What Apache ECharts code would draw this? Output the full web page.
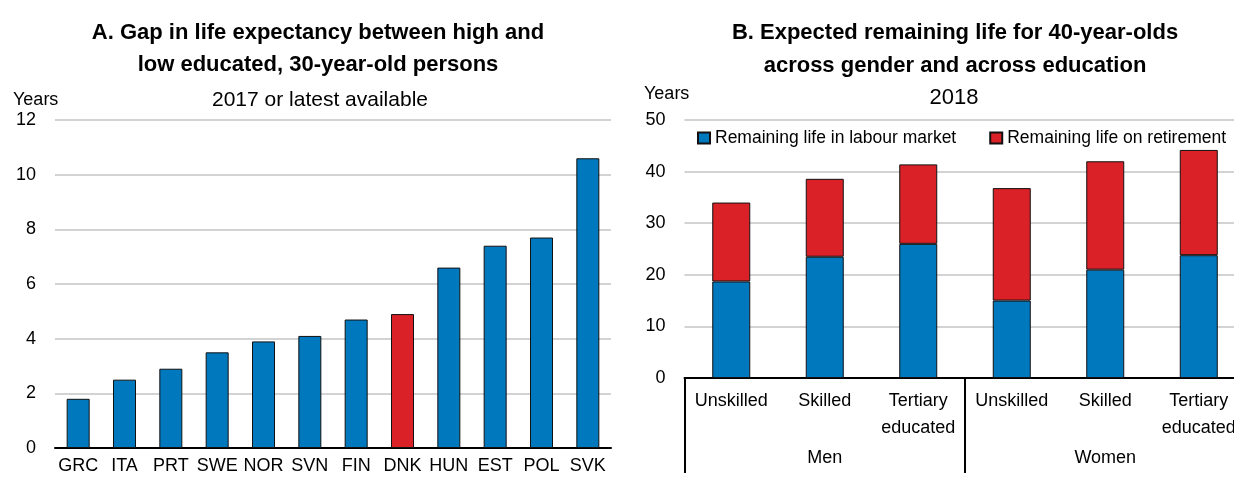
<!DOCTYPE html>
<html><head><meta charset="utf-8">
<script src="https://cdn.jsdelivr.net/npm/echarts@6/dist/echarts.min.js"></script>
<style>html,body{margin:0;padding:0;background:#fff}#c{width:1234px;height:477px}</style>
</head><body><div id="c"></div>
<script>
const FONT = '"Liberation Sans Narrow","Arial Narrow","Liberation Sans",Arial,sans-serif';
const BLUE = '#0078BE', RED = '#DA2128';

// Panel A
const countriesA = ['GRC','ITA','PRT','SWE','NOR','SVN','FIN','DNK','HUN','EST','POL','SVK'];
const gapA = [1.8, 2.5, 2.9, 3.5, 3.9, 4.1, 4.7, 4.9, 6.6, 7.4, 7.7, 10.6];
const highlightA = 'DNK';
const yTicksA = {min: 0, max: 12, interval: 2};

// Panel B
const categoriesB = ['Unskilled','Skilled','Tertiary\neducated','Unskilled','Skilled','Tertiary\neducated'];
const groupsB = ['Men','Women'];
const labourB = [18.7, 23.5, 26.0, 15.0, 21.0, 23.8];
const retireB = [15.3, 15.1, 15.4, 21.8, 21.0, 20.4];
const seriesNamesB = ['Remaining life in labour market','Remaining life on retirement'];
const yTicksB = {min: 0, max: 50, interval: 10};

const chart = echarts.init(document.getElementById('c'), null, {renderer: 'canvas'});
const txt = (x, y, s, size, weight, align) => ({
  type: 'text', x: x, y: y,
  style: {text: s, font: (weight||'normal') + ' ' + size + 'px ' + FONT, fill: '#000', textAlign: align||'center', textVerticalAlign: 'middle'}
});
const gridLine = {show: true, lineStyle: {color: '#C4C4C4', width: 1.5}};
chart.setOption({
  animation: false,
  textStyle: {fontFamily: FONT, color: '#000'},
  graphic: [
    txt(318, 33, 'A. Gap in life expectancy between high and', 22, 'bold'),
    txt(318, 65, 'low educated, 30-year-old persons', 22, 'bold'),
    txt(320, 100, '2017 or latest available', 21),
    txt(13, 100, 'Years', 18, 'normal', 'left'),
    txt(955, 33, 'B. Expected remaining life for 40-year-olds', 22, 'bold'),
    txt(955, 66, 'across gender and across education', 22, 'bold'),
    txt(954, 98, '2018', 22),
    txt(644, 94, 'Years', 18, 'normal', 'left')
  ],
  legend: {
    left: 692, top: 124, width: 600, itemWidth: 12, itemHeight: 11, itemGap: 33, icon: 'rect',
    textStyle: {fontSize: 17.5, fontFamily: FONT, color: '#000'},
    data: seriesNamesB
  },
  grid: [
    {left: 55, right: 623, top: 120, bottom: 29, outerBoundsMode: 'none', containLabel: false},
    {left: 684.5, width: 561, top: 120, bottom: 99, outerBoundsMode: 'none', containLabel: false}
  ],
  xAxis: [
    {gridIndex: 0, type: 'category', data: countriesA,
     axisLine: {lineStyle: {color: '#000', width: 2}},
     axisTick: {inside: true, length: 6, lineStyle: {color: '#000', width: 2}},
     axisLabel: {fontSize: 18, color: '#000', margin: 9, interval: 0}},
    {gridIndex: 1, type: 'category', data: categoriesB,
     axisLine: {lineStyle: {color: '#000', width: 2}},
     axisTick: {length: 60, lineStyle: {color: '#000', width: 2}},
     axisLabel: {fontSize: 18, color: '#000', margin: 10, interval: 0, lineHeight: 27, verticalAlign: 'top'}},
    {gridIndex: 1, type: 'category', data: groupsB, position: 'bottom',
     axisLine: {show: false},
     axisTick: {show: true, length: 95, lineStyle: {color: '#000', width: 2}},
     axisLabel: {fontSize: 18, color: '#000', margin: 71, interval: 0}}
  ],
  yAxis: [
    {gridIndex: 0, type: 'value', min: yTicksA.min, max: yTicksA.max, interval: yTicksA.interval,
     axisLine: {show: false}, axisTick: {show: false},
     axisLabel: {fontSize: 18, color: '#000', margin: 19},
     splitLine: gridLine},
    {gridIndex: 1, type: 'value', min: yTicksB.min, max: yTicksB.max, interval: yTicksB.interval,
     axisLine: {show: false}, axisTick: {show: false},
     axisLabel: {fontSize: 18, color: '#000', margin: 19},
     splitLine: gridLine}
  ],
  series: [
    {type: 'bar', xAxisIndex: 0, yAxisIndex: 0, barWidth: 23,
     data: gapA.map((v, i) => ({value: v, itemStyle: {color: countriesA[i] === highlightA ? RED : BLUE}})),
     itemStyle: {borderColor: '#111', borderWidth: 1}},
    {type: 'bar', name: seriesNamesB[0], xAxisIndex: 1, yAxisIndex: 1, stack: 'b', barWidth: 38,
     data: labourB, itemStyle: {color: BLUE, borderColor: '#111', borderWidth: 1}},
    {type: 'bar', name: seriesNamesB[1], xAxisIndex: 1, yAxisIndex: 1, stack: 'b', barWidth: 38,
     data: retireB, itemStyle: {color: RED, borderColor: '#111', borderWidth: 1}}
  ]
});
</script></body></html>
